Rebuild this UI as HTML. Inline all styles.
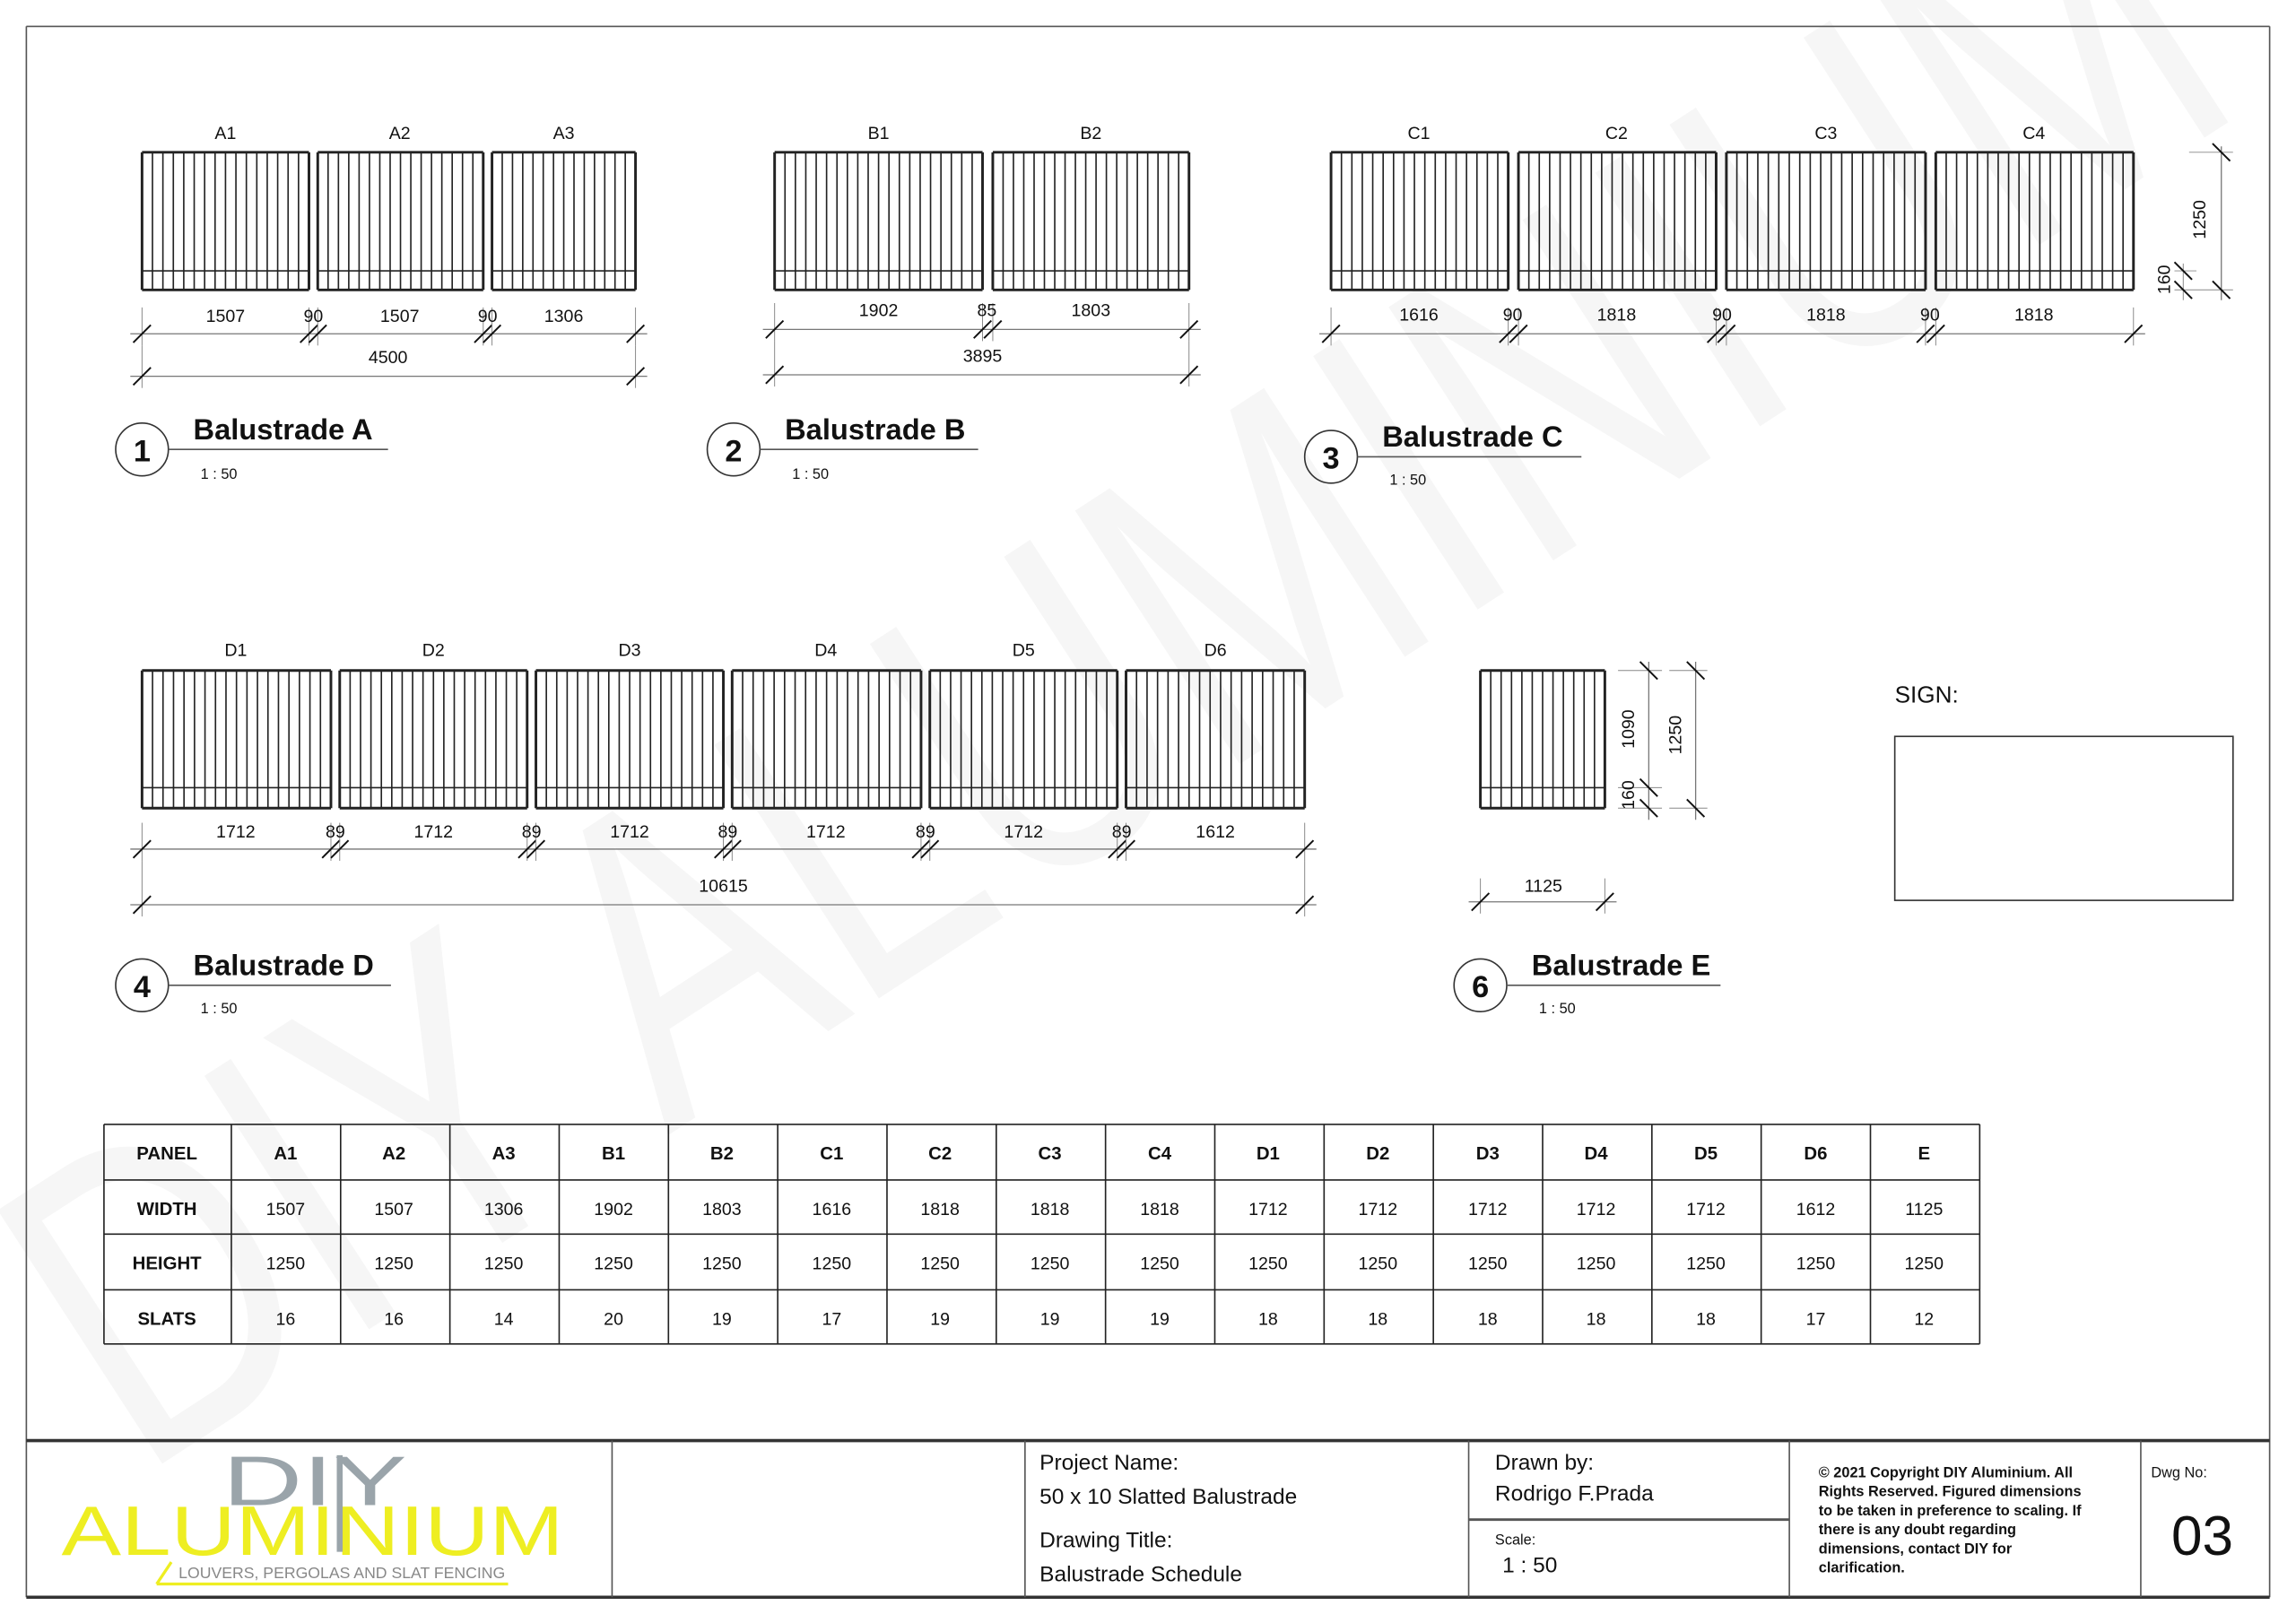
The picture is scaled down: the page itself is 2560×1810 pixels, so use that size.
<!DOCTYPE html>
<html><head><meta charset="utf-8"><style>
html,body{margin:0;padding:0;background:#fff;}
svg{display:block;font-family:"Liberation Sans",Arial,sans-serif;}
</style></head><body>
<svg id="s" xmlns="http://www.w3.org/2000/svg" width="2560" height="1810" viewBox="0 0 1568 1108.6">
<rect width="1568" height="1108.6" fill="#fff"/>
<!-- watermark -->
<text x="0" y="0" transform="translate(95,1010) rotate(-33)" font-size="300" fill="#f6f6f6" textLength="1720" lengthAdjust="spacingAndGlyphs">DIY ALUMINIUM</text>
<g id="g" stroke="#222" fill="none"></g>
<!-- border -->
<g stroke="#555" fill="none">
<line x1="18" y1="18" x2="1550" y2="18" stroke-width="1"/>
<line x1="18" y1="18" x2="18" y2="1091" stroke-width="1"/>
<line x1="1550" y1="18" x2="1550" y2="1091" stroke-width="1"/>
<line x1="18" y1="984" x2="1550" y2="984" stroke-width="2.2" stroke="#333"/>
<line x1="18" y1="1091" x2="1550" y2="1091" stroke-width="2.2" stroke="#333"/>
<line x1="418" y1="984" x2="418" y2="1091"/>
<line x1="700" y1="984" x2="700" y2="1091"/>
<line x1="1003" y1="984" x2="1003" y2="1091"/>
<line x1="1222" y1="984" x2="1222" y2="1091"/>
<line x1="1462" y1="984" x2="1462" y2="1091"/>
<line x1="1003" y1="1038" x2="1222" y2="1038" stroke-width="1.8"/>
</g>
<!-- labels -->
<g font-size="12" text-anchor="middle" fill="#111">
<text x="154" y="95">A1</text><text x="273" y="95">A2</text><text x="385" y="95">A3</text>
<text x="154" y="220">1507</text><text x="214" y="220">90</text><text x="273" y="220">1507</text><text x="333" y="220">90</text><text x="385" y="220">1306</text>
<text x="265" y="248">4500</text>
<text x="600" y="95">B1</text><text x="745" y="95">B2</text>
<text x="600" y="216">1902</text><text x="674" y="216">85</text><text x="745" y="216">1803</text>
<text x="671" y="247">3895</text>
<text x="969" y="95">C1</text><text x="1104" y="95">C2</text><text x="1247" y="95">C3</text><text x="1389" y="95">C4</text>
<text x="969" y="219">1616</text><text x="1033" y="219">90</text><text x="1104" y="219">1818</text><text x="1176" y="219">90</text><text x="1247" y="219">1818</text><text x="1318" y="219">90</text><text x="1389" y="219">1818</text>
<text transform="translate(1506,150) rotate(-90)">1250</text>
<text transform="translate(1482,191) rotate(-90)">160</text>
<text x="161" y="448">D1</text><text x="296" y="448">D2</text><text x="430" y="448">D3</text><text x="564" y="448">D4</text><text x="699" y="448">D5</text><text x="830" y="448">D6</text>
<text x="161" y="572">1712</text><text x="229" y="572">89</text><text x="296" y="572">1712</text><text x="363" y="572">89</text><text x="430" y="572">1712</text><text x="497" y="572">89</text><text x="564" y="572">1712</text><text x="632" y="572">89</text><text x="699" y="572">1712</text><text x="766" y="572">89</text><text x="830" y="572">1612</text>
<text x="494" y="609">10615</text>
<text transform="translate(1116,498) rotate(-90)">1090</text>
<text transform="translate(1116,543) rotate(-90)">160</text>
<text transform="translate(1148,502) rotate(-90)">1250</text>
<text x="1054" y="609">1125</text>
</g>
<!-- titles -->
<g fill="#111">
<circle cx="97" cy="307" r="18" fill="none" stroke="#333"/><text x="97" y="315" font-size="21" font-weight="bold" text-anchor="middle">1</text>
<text x="132" y="300" font-size="20" font-weight="bold">Balustrade A</text><line x1="115" y1="307" x2="265" y2="307" stroke="#555"/><text x="137" y="327" font-size="10">1 : 50</text>
<circle cx="501" cy="307" r="18" fill="none" stroke="#333"/><text x="501" y="315" font-size="21" font-weight="bold" text-anchor="middle">2</text>
<text x="536" y="300" font-size="20" font-weight="bold">Balustrade B</text><line x1="519" y1="307" x2="668" y2="307" stroke="#555"/><text x="541" y="327" font-size="10">1 : 50</text>
<circle cx="909" cy="312" r="18" fill="none" stroke="#333"/><text x="909" y="320" font-size="21" font-weight="bold" text-anchor="middle">3</text>
<text x="944" y="305" font-size="20" font-weight="bold">Balustrade C</text><line x1="927" y1="312" x2="1080" y2="312" stroke="#555"/><text x="949" y="331" font-size="10">1 : 50</text>
<circle cx="97" cy="673" r="18" fill="none" stroke="#333"/><text x="97" y="681" font-size="21" font-weight="bold" text-anchor="middle">4</text>
<text x="132" y="666" font-size="20" font-weight="bold">Balustrade D</text><line x1="115" y1="673" x2="267" y2="673" stroke="#555"/><text x="137" y="692" font-size="10">1 : 50</text>
<circle cx="1011" cy="673" r="18" fill="none" stroke="#333"/><text x="1011" y="681" font-size="21" font-weight="bold" text-anchor="middle">6</text>
<text x="1046" y="666" font-size="20" font-weight="bold">Balustrade E</text><line x1="1029" y1="673" x2="1175" y2="673" stroke="#555"/><text x="1051" y="692" font-size="10">1 : 50</text>
<text x="1294" y="480" font-size="16">SIGN:</text>
<rect x="1294" y="503" width="231" height="112" fill="none" stroke="#333"/>
</g>
<!-- title block -->
<g fill="#111">
<text x="152" y="1028" font-size="48" fill="#9aa4aa" textLength="126" lengthAdjust="spacingAndGlyphs">DIY</text>
<text x="42" y="1062" font-size="48" fill="#eeee22" textLength="343" lengthAdjust="spacingAndGlyphs">ALUMINIUM</text>
<rect x="230" y="994" width="4" height="66" fill="#9aa4aa"/>
<text x="122" y="1078" font-size="11" fill="#888" textLength="223" lengthAdjust="spacingAndGlyphs">LOUVERS, PERGOLAS AND SLAT FENCING</text>
<path d="M107 1082 L117 1067 M107 1082 H347" stroke="#eeee22" stroke-width="2" fill="none"/>
<text x="710" y="1004" font-size="15">Project Name:</text>
<text x="710" y="1027" font-size="15">50 x 10 Slatted Balustrade</text>
<text x="710" y="1057" font-size="15">Drawing Title:</text>
<text x="710" y="1080" font-size="15">Balustrade Schedule</text>
<text x="1021" y="1004" font-size="15">Drawn by:</text>
<text x="1021" y="1025" font-size="15">Rodrigo F.Prada</text>
<text x="1021" y="1055" font-size="10">Scale:</text>
<text x="1026" y="1074" font-size="15">1 : 50</text>
<g font-size="10" font-weight="bold">
<text x="1242" y="1009">© 2021 Copyright DIY Aluminium.   All</text>
<text x="1242" y="1022">Rights Reserved.  Figured dimensions</text>
<text x="1242" y="1035">to be taken in preference to scaling. If</text>
<text x="1242" y="1048">there is any doubt regarding</text>
<text x="1242" y="1061">dimensions, contact DIY for</text>
<text x="1242" y="1074">clarification.</text>
</g>
<text x="1469" y="1009" font-size="10">Dwg No:</text>
<text x="1504" y="1062" font-size="38" text-anchor="middle">03</text>
</g>
<g font-size="12" text-anchor="middle" fill="#111">
<g font-weight="bold" font-size="12.5">
<text x="114" y="792">PANEL</text><text x="195" y="792">A1</text><text x="269" y="792">A2</text><text x="344" y="792">A3</text><text x="419" y="792">B1</text><text x="493" y="792">B2</text><text x="568" y="792">C1</text><text x="642" y="792">C2</text><text x="717" y="792">C3</text><text x="792" y="792">C4</text><text x="866" y="792">D1</text><text x="941" y="792">D2</text><text x="1016" y="792">D3</text><text x="1090" y="792">D4</text><text x="1165" y="792">D5</text><text x="1240" y="792">D6</text><text x="1314" y="792">E</text>
<text x="114" y="830">WIDTH</text><text x="114" y="867">HEIGHT</text><text x="114" y="905">SLATS</text>
</g>
<text x="195" y="830">1507</text><text x="269" y="830">1507</text><text x="344" y="830">1306</text><text x="419" y="830">1902</text><text x="493" y="830">1803</text><text x="568" y="830">1616</text><text x="642" y="830">1818</text><text x="717" y="830">1818</text><text x="792" y="830">1818</text><text x="866" y="830">1712</text><text x="941" y="830">1712</text><text x="1016" y="830">1712</text><text x="1090" y="830">1712</text><text x="1165" y="830">1712</text><text x="1240" y="830">1612</text><text x="1314" y="830">1125</text>
<text x="195" y="867">1250</text><text x="269" y="867">1250</text><text x="344" y="867">1250</text><text x="419" y="867">1250</text><text x="493" y="867">1250</text><text x="568" y="867">1250</text><text x="642" y="867">1250</text><text x="717" y="867">1250</text><text x="792" y="867">1250</text><text x="866" y="867">1250</text><text x="941" y="867">1250</text><text x="1016" y="867">1250</text><text x="1090" y="867">1250</text><text x="1165" y="867">1250</text><text x="1240" y="867">1250</text><text x="1314" y="867">1250</text>
<text x="195" y="905">16</text><text x="269" y="905">16</text><text x="344" y="905">14</text><text x="419" y="905">20</text><text x="493" y="905">19</text><text x="568" y="905">17</text><text x="642" y="905">19</text><text x="717" y="905">19</text><text x="792" y="905">19</text><text x="866" y="905">18</text><text x="941" y="905">18</text><text x="1016" y="905">18</text><text x="1090" y="905">18</text><text x="1165" y="905">18</text><text x="1240" y="905">17</text><text x="1314" y="905">12</text>
</g>
</svg>
<script>
var NS="http://www.w3.org/2000/svg",g=document.getElementById('g');
function L(x1,y1,x2,y2,w,c){var l=document.createElementNS(NS,'line');l.setAttribute('x1',x1);l.setAttribute('y1',y1);l.setAttribute('x2',x2);l.setAttribute('y2',y2);l.setAttribute('stroke-width',w||1);if(c)l.setAttribute('stroke',c);g.appendChild(l);}
function panel(x1,x2,top,bot,rail,n){var w=x2-x1,k=n;for(var i=1;i<k;i++){var x=x1+i*w/k;L(x,top,x,bot,1);}L(x1,top,x2,top,1.8);L(x1,bot,x2,bot,1.8);L(x1,top,x1,bot,1.8);L(x2,top,x2,bot,1.8);L(x1,rail,x2,rail,1);}
function tick(x,y){L(x-6,y+6,x+6,y-6,1.2,'#111');}
function vtick(x,y){L(x-6,y-6,x+6,y+6,1.2,'#111');}
function hdim(xs,y,ext0,ext1){L(xs[0]-8,y,xs[xs.length-1]+8,y,0.8,'#777');xs.forEach(function(x){L(x,ext0,x,ext1,0.6,'#888');tick(x,y);});}
[[97,211,16],[217,330,16],[336,434,14]].forEach(function(p){panel(p[0],p[1],104,198,185,p[2]);});
hdim([97,211,217,330,336,434],228,210,236);hdim([97,434],257,236,265);
[[529,671,20],[678,812,19]].forEach(function(p){panel(p[0],p[1],104,198,185,p[2]);});
hdim([529,671,678,812],225,207,233);hdim([529,812],256,233,264);
[[909,1030,17],[1037,1172,19],[1179,1315,19],[1322,1457,19]].forEach(function(p){panel(p[0],p[1],104,198,185,p[2]);});
hdim([909,1030,1037,1172,1179,1315,1322,1457],228,210,236);
L(1517,100,1517,205,0.8,'#777');L(1495,104,1525,104,0.6,'#888');L(1485,198,1525,198,0.6,'#888');L(1485,185,1500,185,0.6,'#888');L(1491,180,1491,205,0.6,'#888');
vtick(1517,104);vtick(1517,198);vtick(1491,185);vtick(1491,198);
[[97,226,18],[232,360,18],[366,494,18],[500,629,18],[635,763,18],[769,891,17]].forEach(function(p){panel(p[0],p[1],458,552,538,p[2]);});
hdim([97,226,232,360,366,494,500,629,635,763,769,891],580,562,588);hdim([97,891],618,588,626);
panel(1011,1096,458,552,538,12);
L(1126,452,1126,560,0.8,'#777');L(1158,452,1158,560,0.8,'#777');
L(1105,458,1135,458,0.6,'#888');L(1140,458,1166,458,0.6,'#888');L(1105,538,1135,538,0.6,'#888');L(1105,552,1135,552,0.6,'#888');L(1140,552,1166,552,0.6,'#888');
vtick(1126,458);vtick(1126,538);vtick(1126,552);vtick(1158,458);vtick(1158,552);
hdim([1011,1096],616,600,624);
var cols=[71];for(var i=0;i<=16;i++)cols.push(158+i*74.625);
[768,806,843,881,918].forEach(function(y){L(71,y,1352,y,1,'#222');});cols.forEach(function(x){L(x,768,x,918,1,'#222');});
</script>
</body></html>
